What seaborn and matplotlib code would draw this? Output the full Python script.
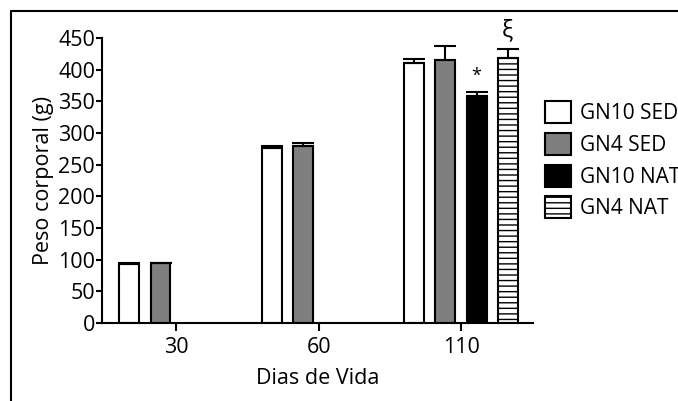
import numpy as np
import pandas as pd
import matplotlib
matplotlib.use("Agg")
import matplotlib.pyplot as plt
from matplotlib.lines import Line2D
import seaborn as sns

# data
dias = ["30", "60", "110"]
grupos = ["GN10 SED", "GN4 SED", "GN10 NAT", "GN4 NAT"]
peso = {
    "GN10 SED": [93, 277, 411],
    "GN4 SED": [94, 280, 415],
    "GN10 NAT": [np.nan, np.nan, 358],
    "GN4 NAT": [np.nan, np.nan, 419],
}
erro = {
    "GN10 SED": [1, 2, 6],
    "GN4 SED": [1, 5, 23],
    "GN10 NAT": [np.nan, np.nan, 7],
    "GN4 NAT": [np.nan, np.nan, 13],
}
marcas = {"GN10 NAT": ("*", 13), "GN4 NAT": ("ξ", 17)}

cores = ["white", "#7f7f80", "black", "white"]

rows = []
for g in grupos:
    for d, v, e in zip(dias, peso[g], erro[g]):
        rows.append({"Dias": d, "Peso": v, "Erro": e, "Grupo": g})
df = pd.DataFrame(rows)

sns.set_style("ticks")
plt.rcParams["font.family"] = ["Open Sans", "DejaVu Sans"]
plt.rcParams["hatch.color"] = "#a8a8a8"
plt.rcParams["hatch.linewidth"] = 1.0
for k in ["text.color", "axes.labelcolor", "xtick.color", "ytick.color"]:
    plt.rcParams[k] = "black"

fig = plt.figure(figsize=(6.78, 4.01), dpi=100)
ax = fig.add_axes([102 / 678, 1 - 323 / 401, (533 - 102) / 678, (323 - 38) / 401])

sns.barplot(data=df.dropna(subset=["Peso"]), x="Dias", y="Peso", hue="Grupo",
            order=dias, hue_order=grupos, palette=cores, errorbar=None,
            width=0.875, gap=0.36, edgecolor="black", linewidth=1.5,
            saturation=1, ax=ax)

# error bars (upper only) and significance marks
for g, cont in zip(grupos, ax.containers):
    sub = df[(df["Grupo"] == g)].dropna(subset=["Peso"])
    for bar, (_, r) in zip(cont, sub.iterrows()):
        xc = bar.get_x() + bar.get_width() / 2
        ax.errorbar(xc, r["Peso"], yerr=[[0], [r["Erro"]]], fmt="none",
                    ecolor="black", elinewidth=1.5, capsize=8, capthick=1.5,
                    clip_on=False, zorder=1)
        if g == "GN4 NAT":
            bar.set_hatch("---")
        if g in marcas and r["Dias"] == "110":
            txt, fs = marcas[g]
            ax.annotate(txt, (xc, r["Peso"] + r["Erro"]),
                        xytext=(0, 5), textcoords="offset points",
                        ha="center", va="bottom", fontsize=fs,
                        annotation_clip=False)

ax.set_ylim(0, 450)
ax.set_xlim(-0.52, 2.505)
ax.set_yticks(range(0, 451, 50))
ax.set_xlabel("Dias de Vida", fontsize=15.5, labelpad=7)
ax.set_ylabel("Peso corporal (g)", fontsize=15.5, labelpad=3)
ax.tick_params(axis="both", labelsize=15.5, width=1.5, color="black")
ax.tick_params(axis="y", length=4, pad=1)
ax.tick_params(axis="x", length=6, pad=4)
for s in ["left", "bottom"]:
    ax.spines[s].set_linewidth(1.5)
    ax.spines[s].set_color("black")
sns.despine(ax=ax)

# legend outside, partly cut at the right edge (as in the reference)
h, l = ax.get_legend_handles_labels()
h[3].set_hatch("---")
ax.legend(h, l, loc="upper left", bbox_to_anchor=(545 / 678, 1 - 101 / 401),
          bbox_transform=fig.transFigure, frameon=False, fontsize=15,
          handlelength=1.25, handleheight=1.25, handletextpad=0.45,
          labelspacing=0.42, borderpad=0, borderaxespad=0)

# outer frame (top and left only, rest is cropped)
fig.add_artist(Line2D([11 / 678, 11 / 678], [0, 1 - 11 / 401], color="black", lw=1.5))
fig.add_artist(Line2D([11 / 678, 1], [1 - 11 / 401, 1 - 11 / 401], color="black", lw=1.5))

fig.savefig("out.png", dpi=100)
